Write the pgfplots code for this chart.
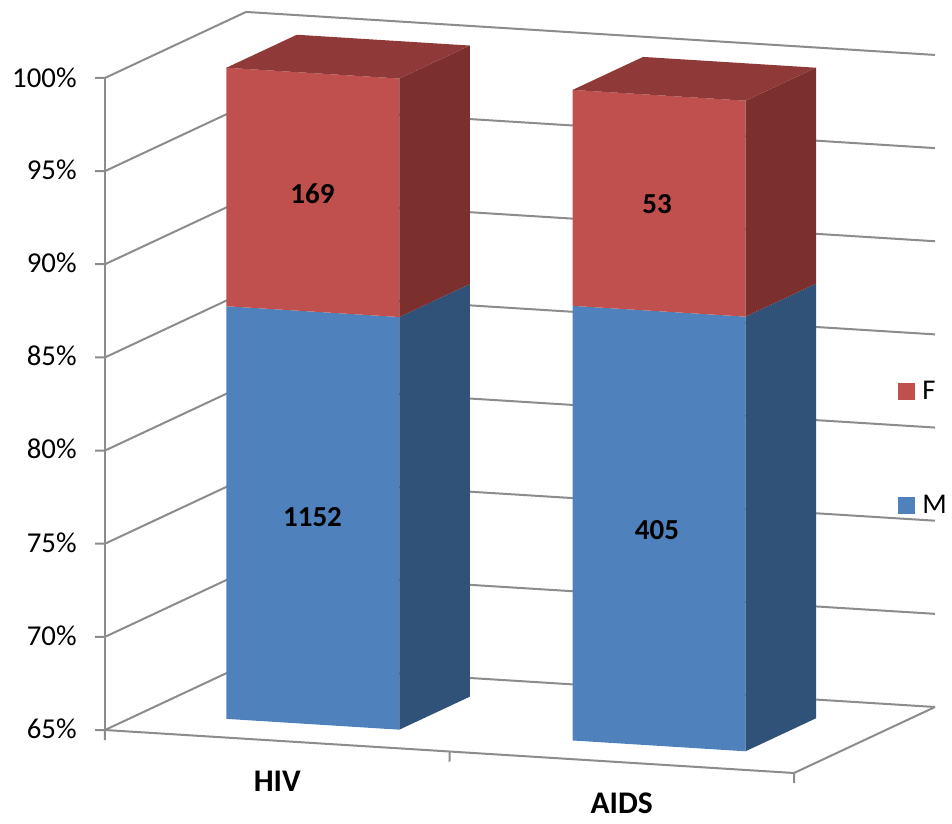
\documentclass[border=0pt]{standalone}
\usepackage{pgfplots}
\usepackage{fontspec}
\setmainfont{Carlito}
\pgfplotsset{compat=1.18}

\definecolor{redfront}{HTML}{C0504D}
\definecolor{redtop}{HTML}{8F3A38}
\definecolor{redside}{HTML}{7B302E}
\definecolor{bluefront}{HTML}{4F81BD}
\definecolor{blueside}{HTML}{315278}
\definecolor{gridgray}{HTML}{8C8C8C}

% one bar part: front, side and optional top, drawn as filled polygons
\newcommand{\barfront}[5]{\addplot3[fill=#5,draw=none,forget plot] coordinates {(#1,0.25,#3)(#2,0.25,#3)(#2,0.25,#4)(#1,0.25,#4)} --cycle;}
\newcommand{\barside}[4]{\addplot3[fill=#4,draw=none,forget plot] coordinates {(#1,0.25,#2)(#1,0.75,#2)(#1,0.75,#3)(#1,0.25,#3)} --cycle;}
\newcommand{\bartop}[4]{\addplot3[fill=#4,draw=none,forget plot] coordinates {(#1,0.25,#3)(#2,0.25,#3)(#2,0.75,#3)(#1,0.75,#3)} --cycle;}

\begin{document}
\begin{tikzpicture}[x=1pt,y=1pt]
\path[use as bounding box] (0,0) rectangle (952,823);
\begin{axis}[
    at={(105pt,93pt)}, anchor=origin,
    x={(344.5pt,-21.5pt)}, y={(141pt,66pt)}, z={(0pt,18.63pt)},
    xmin=0, xmax=2, ymin=0, ymax=1, zmin=65, zmax=100,
    axis lines*=left,
    axis line style={draw=gridgray,line width=2pt},
    tick style={draw=none},
    tick align=outside,
    ztick={65,70,...,100},
    zmajorgrids=true,
    grid style={draw=gridgray,line width=2pt},
    xtick={0,1,2}, xticklabels={},
    ytick=\empty,
    zticklabel={\pgfmathprintnumber{\tick}\%},
    /pgf/number format/assume math mode=true,
    ticklabel style={font=\fontsize{28.8}{30}\selectfont},
    zticklabel style={xshift=-21pt,yshift=8.5pt},
    clip=false,
    legend style={at={(axis description cs:0.97,0.5)},anchor=west,draw=none,fill=none,
      xshift=-15pt,yshift=-56pt,
      row sep=90pt,font=\fontsize{28.6}{30}\selectfont},
    legend cell align=left,
    legend image code/.code={\fill[#1] (0pt,-8.5pt) rectangle (17pt,8.5pt);\path (22pt,0pt);},
]
% z tick stubs: horizontal, 10 px left of the axis
\pgfplotsinvokeforeach{65,70,...,100}{
  \addplot3[draw=gridgray,line width=2pt,forget plot] coordinates {(-0.0256,-0.00834,#1)(0,0,#1)};
}
% x tick stubs: vertical, 10 px below the floor edge
\pgfplotsinvokeforeach{0,1,2}{
  \addplot3[draw=gridgray,line width=2pt,forget plot] coordinates {(#1,0,65)(#1+0.0547,-0.1337,65)};
}

\barfront{0.25}{0.752}{65}{87.15}{bluefront}
\barside{0.752}{65}{87.15}{blueside}
\barfront{0.25}{0.752}{87.15}{99.95}{redfront}
\barside{0.752}{87.15}{99.95}{redside}
\bartop{0.25}{0.752}{99.95}{redtop}

\barfront{1.255}{1.757}{65}{88.33}{bluefront}
\barside{1.757}{65}{88.33}{blueside}
\barfront{1.255}{1.757}{88.33}{99.92}{redfront}
\barside{1.757}{88.33}{99.92}{redside}
\bartop{1.255}{1.757}{99.92}{redtop}

\addlegendimage{fill=redfront,draw=none}
\addlegendentry{F}
\addlegendimage{fill=bluefront,draw=none}
\addlegendentry{M}

\node[font=\fontsize{29}{31}\selectfont\bfseries] at (axis cs:0.5,0.25,93.5) {169};
\node[font=\fontsize{29}{31}\selectfont\bfseries] at (axis cs:0.5,0.25,76.1) {1152};
\node[font=\fontsize{29}{31}\selectfont\bfseries] at (axis cs:1.5,0.25,94.1) {53};
\node[font=\fontsize{29}{31}\selectfont\bfseries] at (axis cs:1.5,0.25,76.6) {405};
\node[font=\fontsize{31.5}{33}\selectfont\bfseries] at (axis cs:0.5,0,62.8) {HIV};
\node[font=\fontsize{31.5}{33}\selectfont\bfseries] at (axis cs:1.5,0,62.8) {AIDS};
\end{axis}
\end{tikzpicture}
\end{document}
